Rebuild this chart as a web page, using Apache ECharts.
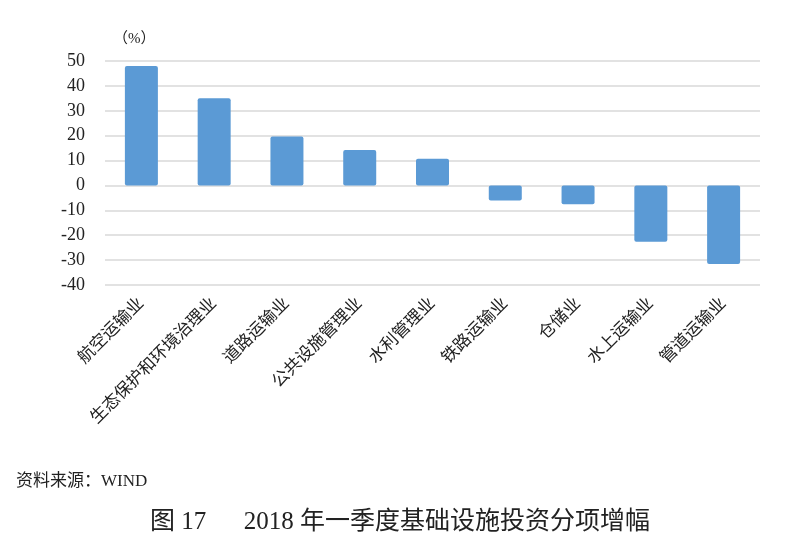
<!DOCTYPE html>
<html>
<head>
<meta charset="utf-8">
<script src="https://cdn.jsdelivr.net/npm/echarts@6/dist/echarts.min.js"></script>
<style>
html,body{margin:0;padding:0;background:#fff;}
#c{width:800px;height:549px;}
</style>
</head>
<body>
<div id="c"></div>
<script>
const categories = ['航空运输业','生态保护和环境治理业','道路运输业','公共设施管理业','水利管理业','铁路运输业','仓储业','水上运输业','管道运输业'];
const values = [48, 35, 19.7, 14.2, 10.7, -6.0, -7.6, -22.6, -31.6];
const yMin = -40, yMax = 50, yStep = 10;
const unitLabel = '（%）';
const sourceText = '资料来源：WIND';
const titleText = '图 17      2018 年一季度基础设施投资分项增幅';

const serif = '"Liberation Serif","Noto Sans CJK SC",serif';
const chart = echarts.init(document.getElementById('c'));
chart.setOption({
  animation: false,
  backgroundColor: '#fff',
  grid: {left: 105, right: 40, top: 61, bottom: 264},
  title: [
    {text: sourceText, left: 11, top: 468, textStyle: {fontFamily: serif, fontSize: 17, fontWeight: 'normal', color: '#222'}},
    {text: titleText, left: 'center', top: 505, textStyle: {fontFamily: serif, fontSize: 25, fontWeight: 'normal', color: '#222'}}
  ],
  xAxis: {
    type: 'category',
    data: categories,
    axisLine: {show: false},
    axisTick: {show: false},
    axisLabel: {rotate: 45, margin: 16, interval: 0, fontSize: 17, color: '#222', fontFamily: serif}
  },
  yAxis: {
    type: 'value',
    min: yMin, max: yMax, interval: yStep,
    name: unitLabel,
    nameLocation: 'end',
    nameGap: 14,
    nameTextStyle: {fontSize: 15, color: '#222', fontFamily: serif, align: 'left', padding: [0, 0, 0, 8]},
    axisLine: {show: false},
    axisTick: {show: false},
    axisLabel: {fontSize: 18, color: '#222', fontFamily: serif, margin: 20},
    splitLine: {lineStyle: {color: '#d9d9d9', width: 1.5}}
  },
  series: [{
    type: 'bar',
    data: values,
    barWidth: 33,
    itemStyle: {color: '#5b9ad5', borderRadius: 2}
  }]
});
</script>
</body>
</html>
